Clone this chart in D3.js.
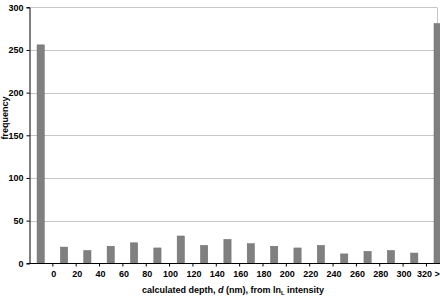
<!DOCTYPE html>
<html>
<head>
<meta charset="utf-8">
<script src="https://cdn.jsdelivr.net/npm/d3@7"></script>
<style>
  body { margin: 0; background: #fff; }
  svg text { font-family: "Liberation Sans", Arial, sans-serif; font-weight: bold; font-size: 9px; fill: #000; }
</style>
</head>
<body>
<script>
// bins of calculated depth (nm)
const categories = ["<0", "0-20", "20-40", "40-60", "60-80", "80-100", "100-120", "120-140",
    "140-160", "160-180", "180-200", "200-220", "220-240", "240-260", "260-280", "280-300",
    "300-320", ">320"];
const frequency = [256, 19, 15, 20, 24, 18, 32, 21, 28, 23, 20, 18, 21, 11, 14, 15, 12, 281];
const tickLabels = ["0", "20", "40", "60", "80", "100", "120", "140", "160", "180", "200",
    "220", "240", "260", "280", "300", "320 >"];
const yTicks = [0, 50, 100, 150, 200, 250, 300];

const width = 440, height = 296;
const mLeft = 29, mTop = 7.3, mBottom = 263.3, plotRight = 437;
const step = 23.35;

const svg = d3.select("body").append("svg")
    .attr("width", width)
    .attr("height", height);

const x = d3.scaleBand()
    .domain(categories)
    .range([mLeft, mLeft + step * categories.length])
    .paddingInner(0.69)
    .paddingOuter(0.345);

// boundary scale for the category ticks
const xb = d3.scaleLinear()
    .domain([0, categories.length])
    .range([mLeft, mLeft + step * categories.length]);

const y = d3.scaleLinear()
    .domain([0, 300])
    .range([mBottom, mTop]);

// gridlines
svg.append("g")
    .selectAll("line")
    .data(yTicks.slice(1))
    .enter()
    .append("line")
        .attr("x1", mLeft)
        .attr("x2", plotRight)
        .attr("y1", d => Math.round(y(d)) + 0.5)
        .attr("y2", d => Math.round(y(d)) + 0.5)
        .attr("stroke", "#c6c6c6")
        .attr("stroke-width", 1);

svg.append("line")
    .attr("x1", plotRight + 0.5).attr("x2", plotRight + 0.5)
    .attr("y1", Math.round(mTop) + 0.5).attr("y2", mBottom)
    .attr("stroke", "#c6c6c6");

// bars
svg.append("g")
    .selectAll("rect")
    .data(frequency)
    .enter()
    .append("rect")
        .attr("x", (d, i) => x(categories[i]))
        .attr("width", x.bandwidth())
        .attr("y", d => y(d))
        .attr("height", d => mBottom - y(d))
        .attr("fill", "#808080")
        .attr("stroke", "#6a6a6a")
        .attr("stroke-width", 0.5);

// y axis
const yAxis = svg.append("g")
    .attr("transform", `translate(${mLeft + 0.5},0)`)
    .call(d3.axisLeft(y).tickValues(yTicks).tickSize(3).tickPadding(3));
yAxis.selectAll("path, line").attr("stroke", "#000");

// x axis
const xAxis = svg.append("g")
    .attr("transform", `translate(0,${Math.round(mBottom) + 0.5})`)
    .call(d3.axisBottom(xb)
        .tickValues(d3.range(1, categories.length))
        .tickFormat((d, i) => tickLabels[i])
        .tickSize(3)
        .tickSizeOuter(0)
        .tickPadding(4));
xAxis.select(".domain").attr("d", `M${mLeft - 1},0H${width}`);
xAxis.selectAll("path, line").attr("stroke", "#000");
xAxis.selectAll(".tick text").attr("dx", d => d === categories.length - 1 ? "2" : "1");

// axis titles
const xt = svg.append("text")
    .attr("x", 233)
    .attr("y", 293)
    .attr("text-anchor", "middle");
xt.append("tspan").text("calculated depth, ");
xt.append("tspan").attr("font-style", "italic").text("d");
xt.append("tspan").text(" (nm), from ln");
xt.append("tspan").attr("font-size", "6px").attr("dy", 2).text("L");
xt.append("tspan").attr("dy", -2).text(" intensity");

svg.append("text")
    .attr("transform", "translate(7.5,118) rotate(-90)")
    .attr("text-anchor", "middle")
    .text("frequency");
</script>
</body>
</html>
